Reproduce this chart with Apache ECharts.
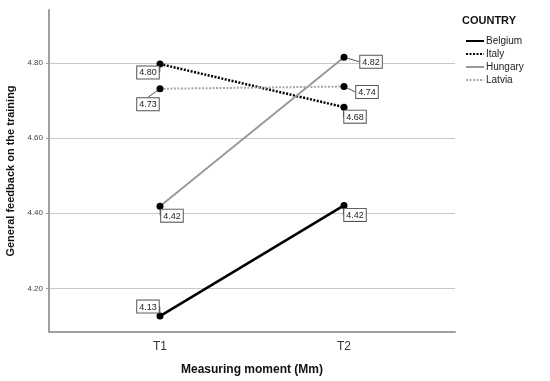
<!DOCTYPE html>
<html><head><meta charset="utf-8">
<script src="https://cdn.jsdelivr.net/npm/echarts@6/dist/echarts.min.js"></script>
<style>html,body{margin:0;padding:0;background:#fff}#c{width:550px;height:381px}</style>
</head><body><div id="c"></div>
<script>
var categories = ['T1', 'T2'];
var countries = ['Belgium', 'Italy', 'Hungary', 'Latvia'];
var belgium = [4.126, 4.421];
var italy = [4.798, 4.683];
var hungary = [4.419, 4.816];
var latvia = [4.732, 4.738];
var yTicks = [4.2, 4.4, 4.6, 4.8];
var xTicks = [0, 1];

// label offsets per series/point (dx, dy relative to default top label)
var labelShift = [
  [[-12, 4], [11, 23]],
  [[-12, 22], [11, 23]],
  [[12, 23], [27, 18]],
  [[-12, 29], [23, 19]]
];

var chart = echarts.init(document.getElementById('c'));
function mk(name, vals, color, type, width, si) {
  return {
    name: name, type: 'line',
    data: vals.map(function (v, i) { return [i, v]; }),
    symbol: 'circle', symbolSize: 7,
    itemStyle: { color: '#000' },
    lineStyle: { color: color, type: type, width: width },
    label: {
      show: true, position: 'top', distance: 4,
      formatter: function (p) { return p.value[1].toFixed(2); },
      fontSize: 9, fontFamily: 'Liberation Sans, Arial, sans-serif', color: '#222',
      backgroundColor: '#fff', borderColor: '#555', borderWidth: 1, padding: [2, 2, 1, 2]
    },
    labelLine: { show: true, lineStyle: { color: '#555', width: 1 } },
    labelLayout: function (p) {
      var s = labelShift[si][p.dataIndex];
      return { dx: s[0], dy: s[1] };
    },
    emphasis: { disabled: true }, z: 3, animation: false
  };
}
chart.setOption({
  animation: false,
  grid: { left: 49, right: 95, top: 10, bottom: 49, outerBoundsMode: 'none', containLabel: false },
  legend: {
    data: countries, orient: 'vertical', left: 460, top: 31, itemGap: 3,
    itemWidth: 18, itemHeight: 10,
    itemStyle: { opacity: 0 },
    textStyle: { fontSize: 10, fontFamily: 'Liberation Sans, Arial, sans-serif', color: '#222', padding: [0, 0, 0, -3] }
  },
  graphic: [{ type: 'text', left: 462, top: 15, style: { text: 'COUNTRY', font: 'bold 11px Liberation Sans, Arial, sans-serif', fill: '#111' } }],
  xAxis: {
    type: 'value', min: -0.603, max: 1.603,
    name: 'Measuring moment (Mm)', nameLocation: 'middle', nameGap: 32,
    nameTextStyle: { fontSize: 12, fontWeight: 'bold', fontFamily: 'Liberation Sans, Arial, sans-serif', color: '#111' },
    axisLine: { onZero: false, lineStyle: { color: '#a0a0a0', width: 2 } },
    axisTick: { show: false }, splitLine: { show: false },
    axisLabel: {
      customValues: xTicks, margin: 9,
      fontSize: 12, fontFamily: 'Liberation Sans, Arial, sans-serif', color: '#333',
      formatter: function (v) { return categories[Math.round(v)]; }
    }
  },
  yAxis: {
    type: 'value', min: 4.0835, max: 4.942,
    name: 'General feedback on the training', nameLocation: 'middle', nameGap: 27,
    nameTextStyle: { fontSize: 11, fontWeight: 'bold', fontFamily: 'Liberation Sans, Arial, sans-serif', color: '#111' },
    axisLine: { show: true, onZero: false, lineStyle: { color: '#a0a0a0', width: 2 } },
    axisTick: { show: true, customValues: yTicks, length: 3, lineStyle: { color: '#a0a0a0' } },
    splitLine: { show: true, lineStyle: { color: '#c8c8c8', width: 1 } },
    axisLabel: {
      customValues: yTicks, margin: 6,
      fontSize: 8, fontFamily: 'Liberation Sans, Arial, sans-serif', color: '#444',
      formatter: function (v) { return v.toFixed(2); }
    }
  },
  series: [
    mk('Belgium', belgium, '#000', 'solid', 2.5, 0),
    mk('Italy', italy, '#000', [2, 1.5], 2.5, 1),
    mk('Hungary', hungary, '#999', 'solid', 2, 2),
    mk('Latvia', latvia, '#a8a8a8', [2, 1.5], 2, 3)
  ]
});
</script></body></html>
